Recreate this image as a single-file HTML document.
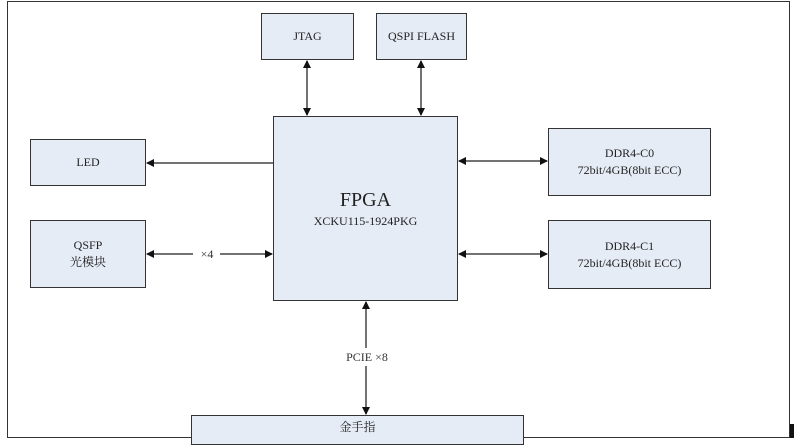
<!DOCTYPE html>
<html><head><style>
body{margin:0;width:796px;height:442px;background:#fff;overflow:hidden;position:relative;font-family:"Liberation Serif","Noto Serif CJK SC",serif;}
.b{position:absolute;background:#e6ecf6;border:1.5px solid #333;box-sizing:border-box;display:flex;flex-direction:column;align-items:center;justify-content:center;font-size:12px;color:#222;text-align:center;line-height:17px;}
</style></head><body>
<div style="position:absolute;left:7px;top:1px;width:783px;height:437px;border:1.5px solid #333;box-sizing:border-box"></div>
<div style="position:absolute;left:790px;top:424px;width:4px;height:14px;background:#111"></div>
<div class="b" style="left:261px;top:13px;width:93px;height:47px">JTAG</div>
<div class="b" style="left:376px;top:13px;width:91px;height:47px">QSPI FLASH</div>
<div class="b" style="left:273px;top:116px;width:185px;height:185px"><div style="font-size:20px;line-height:26px">FPGA</div><div>XCKU115-1924PKG</div></div>
<div class="b" style="left:30px;top:139px;width:116px;height:47px">LED</div>
<div class="b" style="left:30px;top:220px;width:116px;height:68px"><div>QSFP</div><div>光模块</div></div>
<div class="b" style="left:548px;top:128px;width:163px;height:68px"><div>DDR4-C0</div><div>72bit/4GB(8bit ECC)</div></div>
<div class="b" style="left:548px;top:220px;width:163px;height:69px"><div>DDR4-C1</div><div>72bit/4GB(8bit ECC)</div></div>
<div class="b" style="left:191px;top:415px;width:333px;height:30px;justify-content:flex-start;padding-top:3px">金手指</div>
<svg width="796" height="442" style="position:absolute;left:0;top:0">
<defs><marker id="a" markerWidth="8" markerHeight="8" refX="7" refY="4" orient="auto-start-reverse" markerUnits="userSpaceOnUse"><path d="M0,0L8,4L0,8z" fill="#111"/></marker></defs>
<g stroke="#444" stroke-width="1.5" fill="none">
<line x1="307" y1="61" x2="307" y2="115" marker-start="url(#a)" marker-end="url(#a)"/>
<line x1="421" y1="61" x2="421" y2="115" marker-start="url(#a)" marker-end="url(#a)"/>
<line x1="273" y1="163" x2="147" y2="163" marker-end="url(#a)"/>
<line x1="147" y1="254" x2="193" y2="254" marker-start="url(#a)"/>
<line x1="220" y1="254" x2="272" y2="254" marker-end="url(#a)"/>
<line x1="459" y1="161" x2="547" y2="161" marker-start="url(#a)" marker-end="url(#a)"/>
<line x1="459" y1="254" x2="547" y2="254" marker-start="url(#a)" marker-end="url(#a)"/>
<line x1="366" y1="302" x2="366" y2="348" marker-start="url(#a)"/>
<line x1="366" y1="366" x2="366" y2="414" marker-end="url(#a)"/>
</g>
<text x="207" y="258" font-size="12" fill="#333" text-anchor="middle" font-family="Liberation Serif,Noto Serif CJK SC,serif">×4</text>
<text x="367" y="361" font-size="12" fill="#333" text-anchor="middle" font-family="Liberation Serif,Noto Serif CJK SC,serif">PCIE ×8</text>
</svg>
</body></html>
